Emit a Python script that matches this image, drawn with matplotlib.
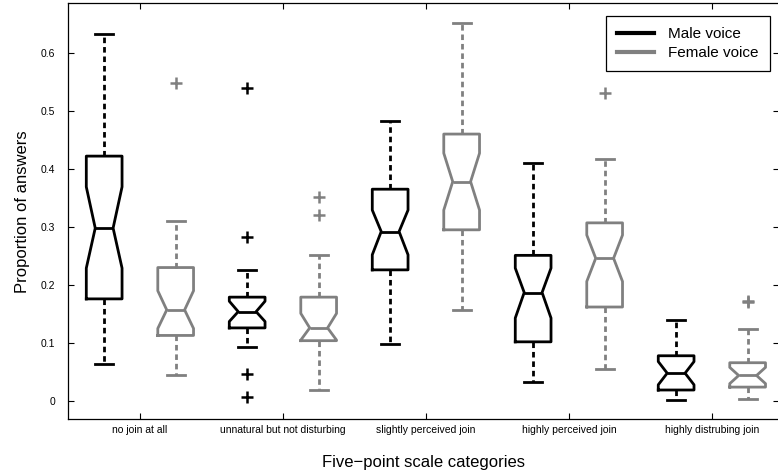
import numpy as np
import matplotlib
matplotlib.use('Agg')
import matplotlib.pyplot as plt
from matplotlib.lines import Line2D

plt.rcParams['font.family'] = ['Liberation Sans', 'DejaVu Sans']

categories = ['no join at all', 'unnatural but not disturbing', 'slightly perceived join',
              'highly perceived join', 'highly distrubing join']

# male voice box statistics
male_whislo = [0.064, 0.093, 0.099, 0.033, 0.001]
male_q1 = [0.176, 0.126, 0.226, 0.102, 0.019]
male_cilo = [0.229, 0.137, 0.252, 0.143, 0.028]
male_med = [0.298, 0.154, 0.292, 0.187, 0.048]
male_cihi = [0.369, 0.172, 0.329, 0.229, 0.068]
male_q3 = [0.422, 0.179, 0.365, 0.251, 0.078]
male_whishi = [0.633, 0.225, 0.482, 0.410, 0.139]
male_fliers = [[], [0.540, 0.282, 0.047, 0.007], [], [], []]

# female voice box statistics
female_whislo = [0.045, 0.019, 0.157, 0.055, 0.003]
female_q1 = [0.113, 0.104, 0.295, 0.162, 0.024]
female_cilo = [0.125, 0.105, 0.329, 0.206, 0.030]
female_med = [0.157, 0.126, 0.378, 0.246, 0.044]
female_cihi = [0.190, 0.151, 0.427, 0.286, 0.058]
female_q3 = [0.230, 0.179, 0.460, 0.307, 0.066]
female_whishi = [0.310, 0.252, 0.652, 0.417, 0.124]
female_fliers = [[0.548], [0.352, 0.321], [], [0.530], [0.171, 0.173]]

MALE_COLOR = 'black'
FEMALE_COLOR = '#808080'


def make_stats(whislo, q1, cilo, med, cihi, q3, whishi, fliers):
    stats = []
    for i in range(len(med)):
        stats.append({
            'whislo': whislo[i], 'q1': q1[i], 'cilo': cilo[i], 'med': med[i],
            'cihi': cihi[i], 'q3': q3[i], 'whishi': whishi[i],
            'fliers': np.array(fliers[i]),
        })
    return stats


def draw_boxes(ax, stats, positions, color):
    ax.bxp(
        stats,
        positions=positions,
        widths=0.25,
        capwidths=0.125,
        shownotches=True,
        showfliers=True,
        manage_ticks=False,
        boxprops=dict(color=color, linewidth=2.0),
        medianprops=dict(color=color, linewidth=2.0),
        whiskerprops=dict(color=color, linewidth=2.0, linestyle=(0, (2.0, 1.4))),
        capprops=dict(color=color, linewidth=2.0),
        flierprops=dict(marker='+', markeredgecolor=color, markersize=8,
                        markeredgewidth=1.8, linestyle='none'),
    )


fig = plt.figure(figsize=(7.78, 4.76), dpi=100)
ax = fig.add_axes([0.0874, 0.1197, 0.914, 0.873])

x = np.arange(1, len(categories) + 1)
draw_boxes(ax, make_stats(male_whislo, male_q1, male_cilo, male_med, male_cihi,
                          male_q3, male_whishi, male_fliers), x - 0.25, MALE_COLOR)
draw_boxes(ax, make_stats(female_whislo, female_q1, female_cilo, female_med, female_cihi,
                          female_q3, female_whishi, female_fliers), x + 0.25, FEMALE_COLOR)

ax.set_xlim(0.497, 5.47)
ax.set_ylim(-0.031, 0.685)
ax.set_xticks(x)
ax.set_xticklabels(categories, fontsize=7.5)
ax.set_yticks([0, 0.1, 0.2, 0.3, 0.4, 0.5, 0.6])
ax.set_yticklabels(['0', '0.1', '0.2', '0.3', '0.4', '0.5', '0.6'], fontsize=7.5)
ax.tick_params(axis='both', direction='in', length=4, width=0.8,
               top=True, right=True)
ax.tick_params(axis='y', pad=9)
ax.tick_params(axis='x', pad=4)
for sp in ax.spines.values():
    sp.set_linewidth(0.9)

ax.set_xlabel('Five\u2212point scale categories', fontsize=12, labelpad=15)
ax.set_ylabel('Proportion of answers', fontsize=12, labelpad=8)

handles = [Line2D([], [], color=MALE_COLOR, linewidth=3),
           Line2D([], [], color=FEMALE_COLOR, linewidth=3)]
leg = ax.legend(handles, ['Male voice', 'Female voice'], loc='upper right',
                bbox_to_anchor=(0.987, 0.970), borderaxespad=0, fontsize=11,
                fancybox=False, framealpha=1, handlelength=2.4, handletextpad=0.9,
                labelspacing=0.3, borderpad=0.75)
leg.get_frame().set_edgecolor('black')
leg.get_frame().set_linewidth(0.9)

plt.savefig('out.png', dpi=100)
plt.close()
